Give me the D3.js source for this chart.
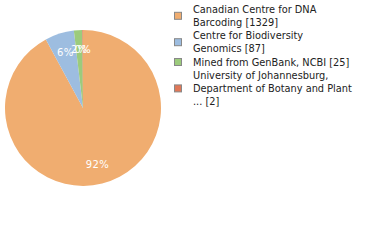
<!DOCTYPE html>
<html><head><meta charset="utf-8">
<script src="https://cdn.jsdelivr.net/npm/d3@7"></script>
<style>body{margin:0;background:#fff}svg{display:block}</style>
</head><body>
<script>
const labels = [
  ["Canadian Centre for DNA", "Barcoding [1329]"],
  ["Centre for Biodiversity", "Genomics [87]"],
  ["Mined from GenBank, NCBI [25]"],
  ["University of Johannesburg,", "Department of Botany and Plant", "... [2]"]
];
const values = [1329, 87, 25, 2];
const colors = ["#f0ad70", "#9dbde0", "#9ccb7c", "#e07858"];

const W = 380, H = 240;
const svg = d3.select("body").append("svg").attr("width", W).attr("height", H);
const cx = 83, cy = 108, r = 78;
const total = d3.sum(values);
const pie = d3.pie().sort(null).value(d => d);
const arcs = pie(values);
const arc = d3.arc().innerRadius(0).outerRadius(r);
const labelArc = d3.arc().innerRadius(r * 0.75).outerRadius(r * 0.75);
const g = svg.append("g").attr("transform", `translate(${cx},${cy})`);
g.selectAll("path").data(arcs).join("path")
  .attr("d", arc).attr("fill", (d, i) => colors[i]);
g.selectAll("text").data(arcs).join("text")
  .attr("transform", d => `translate(${labelArc.centroid(d)})`)
  .attr("text-anchor", "middle").attr("dy", "0.35em")
  .attr("fill", "#fff")
  .style("font", "10px 'DejaVu Sans', sans-serif")
  .style("letter-spacing", "0.3px")
  .text(d => Math.round(d.value / total * 100) + "%");

const lg = svg.append("g").style("font", "9.8px 'DejaVu Sans', sans-serif").attr("fill", "#222");
const lineH = 13.2;
let y0 = 12.8;
labels.forEach((lines, i) => {
  const n = lines.length;
  const mid = y0 + (n - 1) * lineH / 2 - 3.6;
  lg.append("rect").attr("x", 174.5).attr("y", mid - 3.5).attr("width", 7).attr("height", 7)
    .attr("fill", colors[i]).attr("stroke", "#888").attr("stroke-width", 1);
  lines.forEach((t, j) => {
    lg.append("text").attr("x", 193).attr("y", y0 + j * lineH).text(t);
  });
  y0 += n * lineH;
});
</script>
</body></html>
